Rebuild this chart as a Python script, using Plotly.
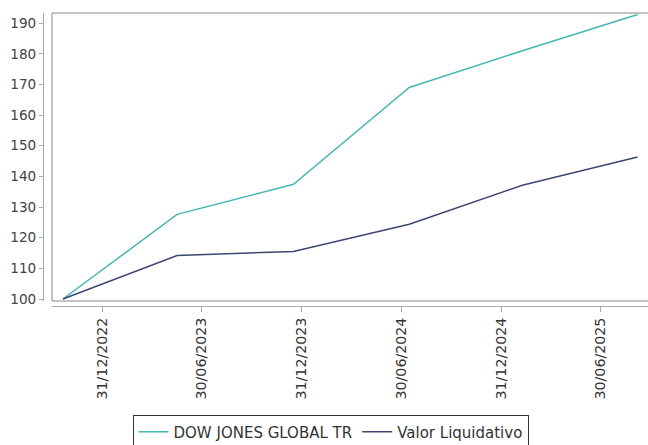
import plotly.graph_objects as go

dates = ["2022-10-20", "2023-05-17", "2023-12-16", "2024-07-15", "2025-02-07", "2025-09-06"]
dow_jones = [100, 127.6, 137.4, 169.0, 181.0, 192.8]
valor_liq = [100, 114.2, 115.5, 124.4, 137.1, 146.3]

x_tickvals = ["2022-12-31", "2023-06-30", "2023-12-31", "2024-06-30", "2024-12-31", "2025-06-30"]
x_ticktext = ["31/12/2022", "30/06/2023", "31/12/2023", "30/06/2024", "31/12/2024", "30/06/2025"]
y_tickvals = [100, 110, 120, 130, 140, 150, 160, 170, 180, 190]

teal = "#45b8b2"
navy = "#3d4670"
font = "DejaVu Sans"
border = dict(color="#888888", width=1)

W, H = 648, 445
fig = go.Figure()
fig.add_trace(go.Scatter(x=dates, y=dow_jones, mode="lines", name="DOW JONES GLOBAL TR",
                         line=dict(color=teal, width=1.5)))
fig.add_trace(go.Scatter(x=dates, y=valor_liq, mode="lines", name="Valor Liquidativo",
                         line=dict(color=navy, width=1.5)))

fig.update_layout(
    width=W, height=H,
    margin=dict(l=43, r=0, t=13, b=139, autoexpand=False),
    paper_bgcolor="white", plot_bgcolor="white",
    font=dict(family=font, size=13.6, color="#444444"),
    showlegend=True,
    legend=dict(orientation="h", xref="container", yref="container",
                x=330.5 / W, xanchor="center", y=(H - 414.5) / H, yanchor="top",
                bordercolor="#333333", borderwidth=1, bgcolor="white",
                font=dict(family=font, size=15, color="#333333"),
                itemwidth=30, tracegroupgap=0),
    xaxis=dict(type="date", range=["2022-09-30", "2025-09-25"],
               domain=[0.01488, 1], anchor="free", position=0, automargin=False,
               tickvals=x_tickvals, ticktext=x_ticktext, tickangle=-90,
               showgrid=False, zeroline=False,
               showline=True, linecolor="#aaaaaa", linewidth=1,
               ticks="outside", ticklen=5, tickcolor="#aaaaaa",
               tickfont=dict(family=font, size=14.2, color="#333333")),
    yaxis=dict(range=[99.35, 193.3], domain=[0.0171, 1], anchor="free", position=0,
               automargin=False,
               tickvals=y_tickvals, showgrid=False, zeroline=False,
               showline=True, linecolor="#aaaaaa", linewidth=1,
               ticks="outside", ticklen=4, tickcolor="#aaaaaa",
               tickfont=dict(family=font, size=13.6, color="#444444")),
    shapes=[
        dict(type="line", xref="x domain", yref="y domain", x0=0, x1=1, y0=1, y1=1, line=border),
        dict(type="line", xref="x domain", yref="y domain", x0=0, x1=1, y0=0, y1=0, line=border),
        dict(type="line", xref="x domain", yref="y domain", x0=0, x1=0, y0=0, y1=1, line=border),
    ],
)

# remove the browser's default page margin so the figure fills the window exactly
fig.write_html("out.html",
               config={"displayModeBar": False},
               post_script="document.body.style.margin='0';document.body.style.overflow='hidden';")
